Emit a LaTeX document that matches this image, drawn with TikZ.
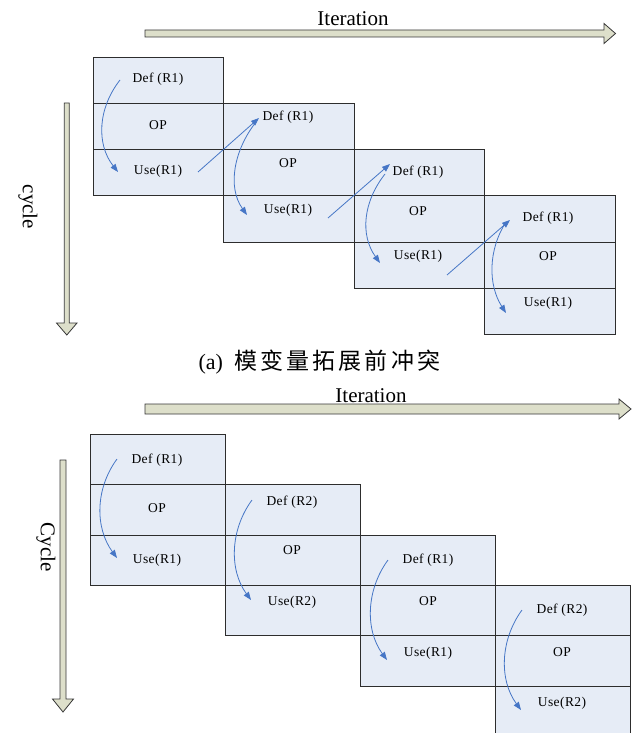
\documentclass[tikz,border=0pt]{standalone}
\usepackage{fontspec}
\setmainfont{Liberation Serif}
\newfontfamily\cjk{Noto Sans CJK SC}
\usetikzlibrary{arrows.meta}
\definecolor{cellfill}{RGB}{230,236,246}
\definecolor{cellline}{RGB}{45,45,45}
\definecolor{arrfill}{RGB}{221,223,202}
\definecolor{arrline}{RGB}{55,55,55}
\definecolor{flow}{RGB}{70,118,198}
\begin{document}
\begin{tikzpicture}[x=1pt,y=-1pt,
  cell/.style={fill=cellfill,draw=cellline,line width=0.9pt},
  lbl/.style={inner sep=0pt,font=\fontsize{13.5}{15}\selectfont\addfontfeatures{LetterSpace=3}},
  head/.style={inner sep=0pt,font=\fontsize{21}{24}\selectfont},
  bigarrow/.style={fill=arrfill,draw=arrline,line width=0.8pt,line join=miter},
  flowarrow/.style={draw=flow,line width=0.8pt,-{Triangle[length=8pt,width=6pt]}}]
\useasboundingbox (0,0) rectangle (643,733);
\clip (0,0) rectangle (643,733);

% ---------------- (a) ----------------
\draw[bigarrow] (145,30) -- (604,30) -- (604,23.5) -- (615.5,33.5) -- (604,43.5) -- (604,37) -- (145,37) -- cycle;
\node[head] (itA) at (353,19) {Iteration};
\draw[bigarrow] (64.3,103) -- (69.3,103) -- (69.3,323) -- (77,323) -- (66.8,335) -- (56.5,323) -- (64.3,323) -- cycle;
\node[head,rotate=-90] (cyA) at (28,207) {cycle};

\foreach \k in {0,...,3}{
  \foreach \r in {0,1,2}{
    \pgfmathsetmacro\xa{93+130.5*\k}
    \pgfmathsetmacro\ya{57+46.25*(\k+\r)}
    \draw[cell] (\xa,\ya) rectangle ++(130.5,46.25);
  }
}

\node[lbl] (a1d) at (158,79) {Def (R1)};
\node[lbl] (a1o) at (158,125) {OP};
\node[lbl] (a1u) at (158,171) {Use(R1)};
\node[lbl] (a2d) at (288,117) {Def (R1)};
\node[lbl] (a2o) at (288,163) {OP};
\node[lbl] (a2u) at (288,210) {Use(R1)};
\node[lbl] (a3d) at (418,172) {Def (R1)};
\node[lbl] (a3o) at (418,211) {OP};
\node[lbl] (a3u) at (418,256) {Use(R1)};
\node[lbl] (a4d) at (548,218) {Def (R1)};
\node[lbl] (a4o) at (548,256) {OP};
\node[lbl] (a4u) at (548,303) {Use(R1)};

\draw[flowarrow] ([shift={(-38,1)}]a1d.center) .. controls +(-22,28) and +(-22,-28) .. ([shift={(-40,1)}]a1u.center);
\draw[flowarrow] ([shift={(-32,5)}]a2d.center) .. controls +(-22,28) and +(-20,-28) .. ([shift={(-41,5)}]a2u.center);
\draw[flowarrow] ([shift={(-33,2)}]a3d.center) .. controls +(-22,28) and +(-20,-28) .. ([shift={(-38,7)}]a3u.center);
\draw[flowarrow] ([shift={(-42,4)}]a4d.center) .. controls +(-18,28) and +(-18,-28) .. ([shift={(-42,10)}]a4u.center);

\draw[flowarrow] ([shift={(40,1)}]a1u.center) -- ([shift={(-29,1)}]a2d.center);
\draw[flowarrow] ([shift={(40,8)}]a2u.center) -- ([shift={(-28,-8)}]a3d.center);
\draw[flowarrow] ([shift={(29,19)}]a3u.center) -- ([shift={(-38,2)}]a4d.center);

\node[inner sep=0pt,font=\fontsize{22}{25}\selectfont] (capA) at (319.5,362) {(a)\hspace{11pt}{\cjk\fontsize{23}{25}\selectfont 模\hspace{3.2pt}变\hspace{3.2pt}量\hspace{3.2pt}拓\hspace{3.2pt}展\hspace{3.2pt}前\hspace{3.2pt}冲\hspace{3.2pt}突}};

% ---------------- (b) ----------------
\draw[bigarrow] (145,404) -- (619,404) -- (619,399) -- (631,409) -- (619,419) -- (619,414) -- (145,414) -- cycle;
\node[head] (itB) at (371,396) {Iteration};
\draw[bigarrow] (60,460) -- (66,460) -- (66,699) -- (73.5,699) -- (63,712) -- (52.5,699) -- (60,699) -- cycle;
\node[head,rotate=-90] (cyB) at (46,547) {Cycle};

\foreach \k in {0,...,3}{
  \foreach \r in {0,1,2}{
    \pgfmathsetmacro\xa{90.5+134.9*\k}
    \pgfmathsetmacro\ya{434.5+50.3*(\k+\r)}
    \draw[cell] (\xa,\ya) rectangle ++(134.9,50.3);
  }
}

\node[lbl] (b1d) at (157,460) {Def (R1)};
\node[lbl] (b1o) at (157,508) {OP};
\node[lbl] (b1u) at (157,560) {Use(R1)};
\node[lbl] (b2d) at (292,502) {Def (R2)};
\node[lbl] (b2o) at (292,550) {OP};
\node[lbl] (b2u) at (292,602) {Use(R2)};
\node[lbl] (b3d) at (428,560) {Def (R1)};
\node[lbl] (b3o) at (428,601) {OP};
\node[lbl] (b3u) at (428,653) {Use(R1)};
\node[lbl] (b4d) at (562,610) {Def (R2)};
\node[lbl] (b4o) at (562,652) {OP};
\node[lbl] (b4u) at (562,703) {Use(R2)};

\draw[flowarrow] ([shift={(-40,-1)}]b1d.center) .. controls +(-22,30) and +(-22,-30) .. ([shift={(-40,-2)}]b1u.center);
\draw[flowarrow] ([shift={(-40,-2)}]b2d.center) .. controls +(-22,30) and +(-22,-30) .. ([shift={(-41,-2)}]b2u.center);
\draw[flowarrow] ([shift={(-40,0)}]b3d.center) .. controls +(-22,30) and +(-22,-30) .. ([shift={(-41,7)}]b3u.center);
\draw[flowarrow] ([shift={(-40,0)}]b4d.center) .. controls +(-22,30) and +(-22,-30) .. ([shift={(-41,7)}]b4u.center);
\end{tikzpicture}
\end{document}
